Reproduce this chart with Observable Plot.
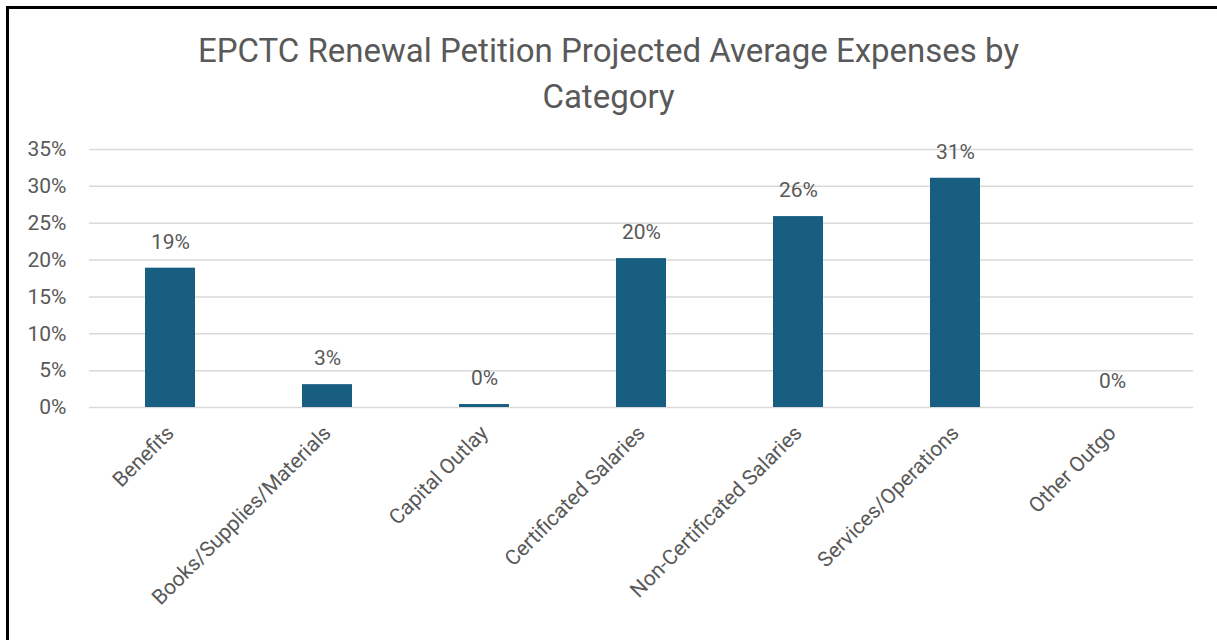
<!DOCTYPE html>
<html>
<head>
<meta charset="utf-8">
<script src="https://cdn.jsdelivr.net/npm/d3@7"></script>
<script src="https://cdn.jsdelivr.net/npm/@observablehq/plot@0.6"></script>
<style>
  html, body { margin: 0; padding: 0; background: #fff; }
  #wrap { position: relative; width: 1217px; height: 640px; overflow: hidden; font-family: Roboto, "Liberation Sans", sans-serif; }
  #border { position: absolute; left: 6px; top: 6px; width: 1220px; height: 700px; border-top: 3px solid #000; border-left: 3px solid #000; box-sizing: border-box; pointer-events: none; }
  #title { position: absolute; left: 0; top: 0; width: 1217px; height: 130px; box-sizing: border-box; padding-top: 28px; text-align: center; color: #595959; font-size: 33px; line-height: 46px; }
  #chart { position: absolute; left: 0; top: 130px; }
</style>
</head>
<body>
<div id="wrap">
  <div id="title">EPCTC Renewal Petition Projected Average Expenses by<br>Category</div>
  <div id="chart"></div>
  <div id="border"></div>
</div>
<script>
const categories = ["Benefits", "Books/Supplies/Materials", "Capital Outlay", "Certificated Salaries", "Non-Certificated Salaries", "Services/Operations", "Other Outgo"];
const values = [18.9, 3.1, 0.4, 20.2, 25.9, 31.1, 0.0];
const yTicks = [0, 5, 10, 15, 20, 25, 30, 35];

const data = categories.map((c, i) => ({category: c, value: values[i]}));

const chart = Plot.plot({
  width: 1217,
  height: 510,
  marginTop: 19,
  marginBottom: 233,
  marginLeft: 89,
  marginRight: 24,
  style: {fontFamily: "Roboto, 'Liberation Sans', sans-serif", color: "#595959", background: "transparent"},
  x: {domain: categories, paddingInner: 0.68, paddingOuter: 0.34, label: null},
  y: {domain: [0, 35], label: null},
  marks: [
    Plot.gridY(yTicks, {stroke: "#d9d9d9", strokeOpacity: 1, strokeWidth: 1.5}),
    Plot.barY(data, {x: "category", y: "value", fill: "#175e80"}),
    Plot.text(data, {x: "category", y: "value", text: d => Math.round(d.value) + "%", dy: -26, fontSize: 21, fill: "#595959"}),
    Plot.axisY({ticks: yTicks, tickFormat: d => d + "%", tickSize: 0, tickPadding: 23, fontSize: 21, label: null}),
    Plot.axisX({tickRotate: -45, tickSize: 0, tickPadding: 22, fontSize: 21, label: null})
  ]
});
document.getElementById("chart").appendChild(chart);
</script>
</body>
</html>
